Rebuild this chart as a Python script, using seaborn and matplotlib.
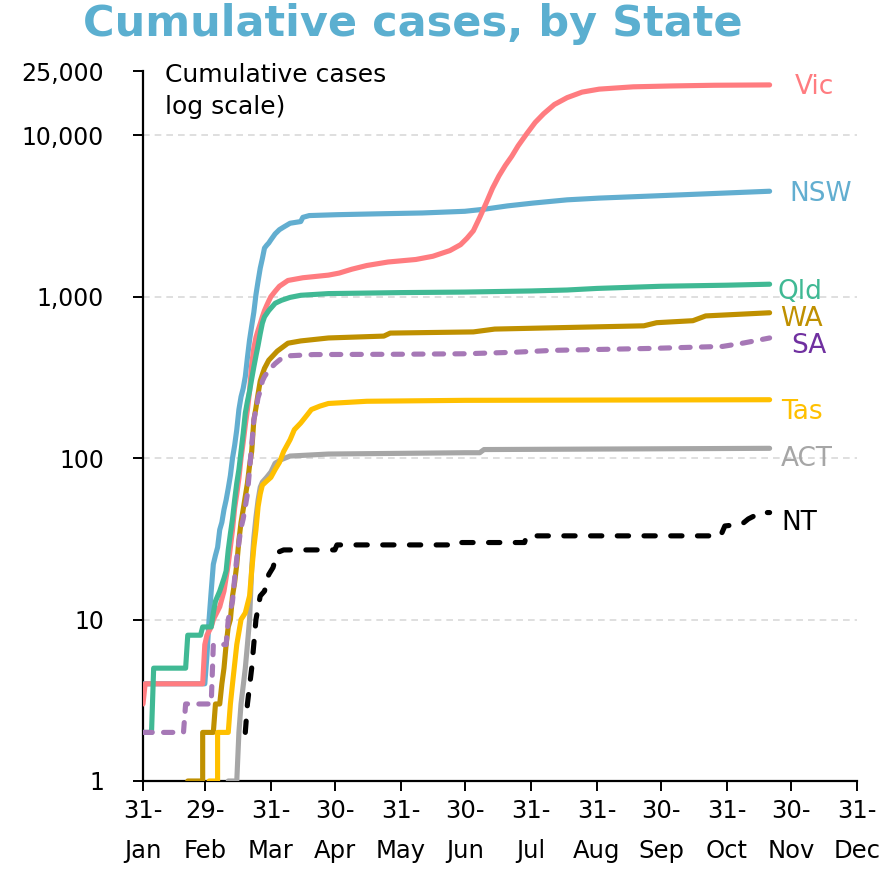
import pandas as pd
import numpy as np
import seaborn as sns
import matplotlib.pyplot as plt
from matplotlib.ticker import NullLocator

# cumulative cases per state (log scale)
nsw_dates = ['2020-01-31', '2020-02-29', '2020-03-01', '2020-03-02', '2020-03-03', '2020-03-04',
             '2020-03-05', '2020-03-06', '2020-03-07', '2020-03-08', '2020-03-09', '2020-03-10',
             '2020-03-11', '2020-03-12', '2020-03-13', '2020-03-14', '2020-03-15', '2020-03-16',
             '2020-03-17', '2020-03-18', '2020-03-19', '2020-03-20', '2020-03-21', '2020-03-22',
             '2020-03-23', '2020-03-24', '2020-03-25', '2020-03-26', '2020-03-27', '2020-03-28',
             '2020-03-29', '2020-03-30', '2020-03-31', '2020-04-02', '2020-04-04', '2020-04-06',
             '2020-04-09', '2020-04-14', '2020-04-15', '2020-04-18', '2020-05-01', '2020-05-20',
             '2020-06-10', '2020-06-30', '2020-07-09', '2020-07-20', '2020-08-01', '2020-08-17',
             '2020-09-01', '2020-09-25', '2020-10-20', '2020-11-20']
nsw_cases = [4, 4, 6, 10, 15, 22,
             25, 28, 36, 40, 48, 55,
             65, 78, 100, 120, 150, 200,
             240, 270, 320, 420, 540, 660,
             800, 1030, 1250, 1500, 1720, 2000,
             2080, 2150, 2250, 2450, 2600, 2700,
             2850, 2920, 3100, 3180, 3220, 3260,
             3300, 3380, 3480, 3650, 3800, 3980,
             4080, 4200, 4330, 4500]

vic_dates = ['2020-01-31', '2020-02-01', '2020-02-28', '2020-02-29', '2020-03-01', '2020-03-03',
             '2020-03-04', '2020-03-07', '2020-03-09', '2020-03-11', '2020-03-13', '2020-03-14',
             '2020-03-15', '2020-03-16', '2020-03-17', '2020-03-18', '2020-03-19', '2020-03-20',
             '2020-03-21', '2020-03-22', '2020-03-23', '2020-03-24', '2020-03-25', '2020-03-26',
             '2020-03-27', '2020-03-28', '2020-03-29', '2020-03-30', '2020-03-31', '2020-04-02',
             '2020-04-04', '2020-04-08', '2020-04-15', '2020-04-27', '2020-05-02', '2020-05-08',
             '2020-05-15', '2020-05-25', '2020-06-07', '2020-06-15', '2020-06-23', '2020-06-28',
             '2020-07-01', '2020-07-04', '2020-07-07', '2020-07-10', '2020-07-13', '2020-07-16',
             '2020-07-19', '2020-07-22', '2020-07-25', '2020-07-29', '2020-08-02', '2020-08-06',
             '2020-08-11', '2020-08-17', '2020-08-24', '2020-09-01', '2020-09-17', '2020-10-05',
             '2020-10-25', '2020-11-20']
vic_cases = [3, 4, 4, 7, 8, 9,
             10, 12, 15, 22, 36, 49,
             60, 75, 100, 125, 160, 200,
             260, 380, 480, 560, 620, 680,
             750, 820, 880, 940, 1000, 1080,
             1160, 1260, 1310, 1360, 1400, 1480,
             1560, 1640, 1700, 1780, 1930, 2100,
             2300, 2560, 3100, 3800, 4700, 5600,
             6500, 7400, 8600, 10200, 12000, 13600,
             15500, 17100, 18500, 19300, 19950, 20200,
             20400, 20500]

qld_dates = ['2020-01-31', '2020-02-04', '2020-02-05', '2020-02-20', '2020-02-21', '2020-02-27',
             '2020-02-28', '2020-03-03', '2020-03-04', '2020-03-05', '2020-03-07', '2020-03-09',
             '2020-03-10', '2020-03-11', '2020-03-12', '2020-03-13', '2020-03-14', '2020-03-15',
             '2020-03-16', '2020-03-17', '2020-03-18', '2020-03-19', '2020-03-20', '2020-03-21',
             '2020-03-22', '2020-03-23', '2020-03-24', '2020-03-25', '2020-03-26', '2020-03-27',
             '2020-03-28', '2020-03-30', '2020-04-02', '2020-04-05', '2020-04-09', '2020-04-14',
             '2020-04-27', '2020-05-31', '2020-06-30', '2020-07-31', '2020-08-17', '2020-08-31',
             '2020-09-30', '2020-10-31', '2020-11-20']
qld_cases = [2, 2, 5, 5, 8, 8,
             9, 9, 11, 13, 15, 18,
             20, 27, 34, 42, 55, 70,
             85, 110, 142, 190, 225, 260,
             310, 367, 430, 500, 590, 685,
             750, 820, 910, 950, 990, 1020,
             1045, 1060, 1068, 1085, 1100, 1125,
             1160, 1178, 1195]

wa_dates = ['2020-02-21', '2020-02-28', '2020-02-28', '2020-03-04', '2020-03-05', '2020-03-07',
            '2020-03-08', '2020-03-09', '2020-03-10', '2020-03-11', '2020-03-12', '2020-03-13',
            '2020-03-14', '2020-03-15', '2020-03-16', '2020-03-17', '2020-03-18', '2020-03-19',
            '2020-03-20', '2020-03-21', '2020-03-22', '2020-03-23', '2020-03-24', '2020-03-25',
            '2020-03-26', '2020-03-27', '2020-03-28', '2020-03-30', '2020-04-03', '2020-04-08',
            '2020-04-14', '2020-04-27', '2020-05-23', '2020-05-26', '2020-07-04', '2020-07-14',
            '2020-09-22', '2020-09-28', '2020-10-15', '2020-10-21', '2020-11-20']
wa_cases = [1, 1, 2, 2, 3, 3,
            4, 5, 7, 9, 10, 14,
            17, 22, 31, 40, 48, 58,
            70, 90, 110, 172, 205, 250,
            300, 330, 360, 404, 460, 515,
            532, 555, 570, 595, 605, 630,
            660, 690, 710, 760, 795]

sa_dates = ['2020-01-31', '2020-02-19', '2020-02-20', '2020-03-03', '2020-03-04', '2020-03-10',
            '2020-03-11', '2020-03-13', '2020-03-14', '2020-03-15', '2020-03-16', '2020-03-17',
            '2020-03-18', '2020-03-19', '2020-03-20', '2020-03-21', '2020-03-22', '2020-03-23',
            '2020-03-24', '2020-03-25', '2020-03-26', '2020-03-27', '2020-03-28', '2020-03-30',
            '2020-04-02', '2020-04-05', '2020-04-08', '2020-04-20', '2020-05-31', '2020-06-30',
            '2020-07-24', '2020-08-10', '2020-09-25', '2020-10-29', '2020-11-08', '2020-11-20']
sa_cases = [2, 2, 3, 3, 7, 7,
            10, 13, 18, 24, 30, 37,
            42, 50, 60, 85, 120, 172,
            200, 238, 260, 300, 320, 350,
            385, 415, 430, 438, 440, 443,
            453, 465, 478, 492, 517, 555]

act_dates = ['2020-03-11', '2020-03-15', '2020-03-16', '2020-03-17', '2020-03-19', '2020-03-20',
             '2020-03-21', '2020-03-22', '2020-03-23', '2020-03-24', '2020-03-25', '2020-03-26',
             '2020-03-27', '2020-03-29', '2020-03-31', '2020-04-02', '2020-04-05', '2020-04-09',
             '2020-04-27', '2020-06-30', '2020-07-07', '2020-07-09', '2020-11-20']
act_cases = [1, 1, 2, 3, 5, 7,
             10, 21, 32, 43, 55, 66,
             71, 76, 82, 93, 98, 103,
             106, 108, 108, 113, 115]

tas_dates = ['2020-03-02', '2020-03-06', '2020-03-06', '2020-03-11', '2020-03-12', '2020-03-13',
             '2020-03-15', '2020-03-17', '2020-03-19', '2020-03-21', '2020-03-22', '2020-03-23',
             '2020-03-24', '2020-03-25', '2020-03-26', '2020-03-27', '2020-03-29', '2020-03-31',
             '2020-04-02', '2020-04-04', '2020-04-06', '2020-04-09', '2020-04-11', '2020-04-14',
             '2020-04-17', '2020-04-19', '2020-04-23', '2020-04-27', '2020-05-15', '2020-06-30',
             '2020-11-20']
tas_cases = [1, 1, 2, 2, 3, 4,
             7, 10, 11, 14, 20, 28,
             36, 50, 60, 68, 72, 76,
             85, 94, 110, 130, 150, 165,
             185, 200, 210, 218, 225, 228,
             230]

nt_dates = ['2020-03-19', '2020-03-20', '2020-03-22', '2020-03-24', '2020-03-26', '2020-03-28',
            '2020-03-30', '2020-04-01', '2020-04-03', '2020-04-06', '2020-04-30', '2020-05-01',
            '2020-06-26', '2020-06-27', '2020-07-28', '2020-07-29', '2020-10-28', '2020-10-30',
            '2020-11-07', '2020-11-10', '2020-11-13', '2020-11-15', '2020-11-20']
nt_cases = [2, 3, 5, 10, 14, 15,
            19, 21, 26, 27, 27, 29,
            29, 30, 30, 33, 33, 38,
            39, 42, 44, 46, 46]

states = ['NSW', 'Vic', 'Qld', 'WA', 'SA', 'ACT', 'Tas', 'NT']
state_dates = [nsw_dates, vic_dates, qld_dates, wa_dates, sa_dates, act_dates, tas_dates, nt_dates]
state_cases = [nsw_cases, vic_cases, qld_cases, wa_cases, sa_cases, act_cases, tas_cases, nt_cases]

line_colors = {'NSW': '#62AED0', 'Vic': '#FF7C80', 'Qld': '#40B994', 'WA': '#BF9000',
               'SA': '#A678B6', 'ACT': '#A6A6A6', 'Tas': '#FFC000', 'NT': '#000000'}
label_colors = dict(line_colors, SA='#7030A0')
# label offsets (pixels) from the last point of each line
label_offsets = {'Vic': (25, -2), 'NSW': (20, -3), 'Qld': (8, -8), 'WA': (11, -6),
                 'SA': (22, -8), 'Tas': (12, -12), 'ACT': (11, -11), 'NT': (12, -10)}
dash_styles = {'SA': (0, (1.8, 2.2)), 'NT': (0, (2.2, 3.0))}

tick_dates = pd.date_range('2020-01-31', '2020-12-31', freq='ME')
tick_labels = [f'{d.day}-\n{d.strftime("%b")}' for d in tick_dates]
y_ticks = [1, 10, 100, 1000, 10000, 25000]
y_labels = ['1', '10', '100', '1,000', '10,000', '25,000']
grid_levels = [10, 100, 1000, 10000]

sns.set_theme(style='white')
plt.rcParams['font.family'] = ['DejaVu Sans']
plt.rcParams['text.color'] = 'black'
plt.rcParams['xtick.color'] = 'black'
plt.rcParams['ytick.color'] = 'black'

W, H = 886, 869
fig = plt.figure(figsize=(W / 100, H / 100), dpi=100)
ax = fig.add_axes([143 / W, 1 - 781 / H, (857 - 143) / W, (781 - 71) / H])

for lvl in grid_levels:
    ax.axhline(lvl, color='#D9D9D9', lw=1.2, ls=(0, (4, 3)), zorder=0)

for state, dates, cases in zip(states, state_dates, state_cases):
    df = pd.DataFrame({'date': pd.to_datetime(dates), 'cases': cases})
    sns.lineplot(data=df, x='date', y='cases', ax=ax, estimator=None, sort=False,
                 color=line_colors[state], lw=3.7, zorder=3)
    line = ax.lines[-1]
    line.set_solid_capstyle('round')
    line.set_solid_joinstyle('round')
    if state in dash_styles:
        line.set_linestyle(dash_styles[state])
        line.set_dash_capstyle('round')
    dx, dy = label_offsets[state]
    ax.annotate(state, xy=(df['date'].iloc[-1], cases[-1]), xytext=(dx, dy),
                textcoords='offset pixels', ha='left', va='center',
                fontsize=19, color=label_colors[state], annotation_clip=False)

ax.set_yscale('log')
ax.set_ylim(1, 25000)
ax.set_xlim(pd.Timestamp('2020-01-31'), pd.Timestamp('2020-12-31'))
ax.set_yticks(y_ticks)
ax.set_yticklabels(y_labels)
ax.yaxis.set_minor_locator(NullLocator())
ax.set_xticks(tick_dates)
ax.set_xticklabels(tick_labels)
ax.xaxis.set_minor_locator(NullLocator())
ax.set_xlabel('')
ax.set_ylabel('')

for side in ['top', 'right']:
    ax.spines[side].set_visible(False)
for side in ['left', 'bottom']:
    ax.spines[side].set_color('black')
    ax.spines[side].set_linewidth(1.6)

ax.tick_params(axis='y', which='major', direction='out', length=7, width=1.4,
               color='black', labelcolor='black', labelsize=17, pad=21, left=True)
ax.tick_params(axis='x', which='major', direction='out', length=7, width=1.4,
               color='black', labelcolor='black', labelsize=17.5, pad=6, bottom=True)
for lbl in ax.get_xticklabels():
    lbl.set_linespacing(1.85)

fig.text(165 / W, 1 - 63 / H, 'Cumulative cases\nlog scale)', ha='left', va='top',
         fontsize=18, color='black', linespacing=1.4)
fig.text(413 / W, 1 - 3 / H, 'Cumulative cases, by State', ha='center', va='top',
         fontsize=31, fontweight='bold', color='#5BAFD0')

fig.savefig('out.png', dpi=100)
